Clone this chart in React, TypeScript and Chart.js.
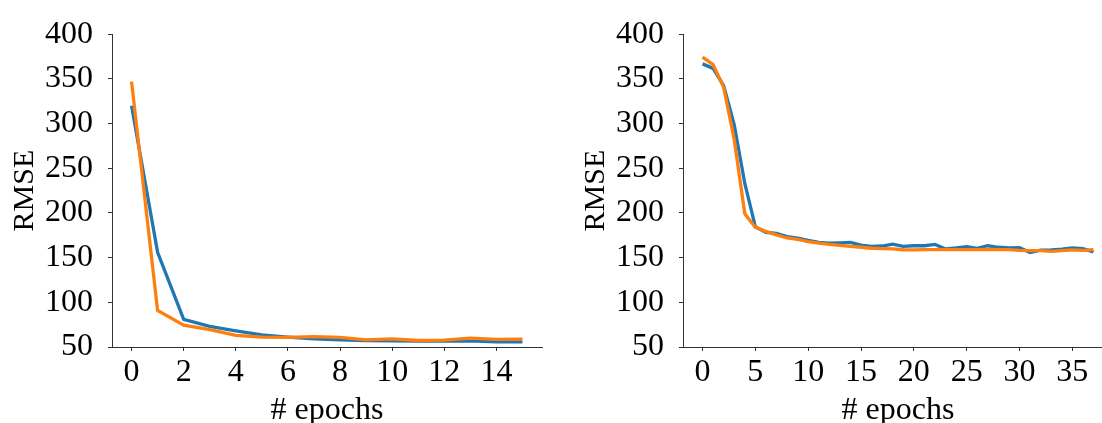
import React, { useEffect, useRef } from "react";
import { Chart, registerables } from "chart.js";

Chart.register(...registerables);

// ---------- data ----------
const leftEpochs = [0, 1, 2, 3, 4, 5, 6, 7, 8, 9, 10, 11, 12, 13, 14, 15];
const leftBlue = [320, 156, 81, 73, 68, 63.5, 61, 59, 58, 57.3, 57, 56.6, 56.6, 57, 55.8, 55.8];
const leftOrange = [347, 91, 74.5, 69.5, 63, 61, 60.8, 61.6, 60.7, 58, 59, 57.3, 57.6, 60, 58.5, 58.7];
const leftXTicks = [0, 2, 4, 6, 8, 10, 12, 14];

const rightEpochs = [
  0, 1, 2, 3, 4, 5, 6, 7, 8, 9, 10, 11, 12, 13, 14, 15, 16, 17, 18, 19, 20, 21, 22, 23, 24, 25, 26, 27,
  28, 29, 30, 31, 32, 33, 34, 35, 36, 37,
];
const rightBlue = [
  366.8, 361.7, 342.4, 298.6, 233, 184.5, 178.3, 177.2, 173.6, 171.7, 169.2, 167, 166.3, 166.6, 167, 164,
  162.5, 163, 165, 162.6, 163.3, 163.3, 164.8, 159.7, 160.8, 162.3, 160.4, 163.3, 161.6, 160.8, 161.1,
  155.7, 158.3, 158.6, 159.4, 160.8, 160, 156.4,
];
const rightOrange = [
  374.4, 366, 340.5, 282, 199, 183.8, 179.4, 175.4, 172, 170.3, 168, 166.3, 164.8, 163.7, 162.5, 161.6,
  160.5, 160, 159.7, 158.8, 158.6, 159, 159, 159, 159, 159, 159, 159.3, 159, 159, 158.2, 157.8, 157.8,
  157, 157.8, 158.6, 158.2, 159,
];
const rightXTicks = [0, 5, 10, 15, 20, 25, 30, 35];

const yTicks = [50, 100, 150, 200, 250, 300, 350, 400];
const yTitle = "RMSE";
const xTitle = "# epochs";

// ---------- styling ----------
const BLUE = "#1f77b4";
const ORANGE = "#ff7f0e";
const AXIS = "#333";
const FONT = "'Liberation Serif', 'Times New Roman', serif";
const CW = 560;
const CH = 423;

function makeConfig(
  xs: number[],
  blue: number[],
  orange: number[],
  xTicks: number[],
  xMin: number,
  xMax: number
): any {
  const pts = (ys: number[]) => xs.map((x, i) => ({ x, y: ys[i] }));
  return {
    type: "line",
    data: {
      datasets: [
        {
          data: pts(blue),
          borderColor: BLUE,
          borderWidth: 3.3,
          pointRadius: 0,
          tension: 0,
          fill: false,
          order: 2,
        },
        {
          data: pts(orange),
          borderColor: ORANGE,
          borderWidth: 3.3,
          pointRadius: 0,
          tension: 0,
          fill: false,
          order: 1,
        },
      ],
    },
    options: {
      responsive: false,
      animation: false,
      devicePixelRatio: 1,
      layout: { padding: { top: 27, right: 18, left: 0, bottom: 0 } },
      plugins: { legend: { display: false }, tooltip: { enabled: false } },
      scales: {
        x: {
          type: "linear",
          min: xMin,
          max: xMax,
          afterFit: (s: any) => {
            s.height = 76;
          },
          afterBuildTicks: (s: any) => {
            s.ticks = xTicks.map((v) => ({ value: v }));
          },
          ticks: {
            color: "#000",
            font: { family: FONT, size: 32 },
            padding: 2,
            maxRotation: 0,
            autoSkip: false,
            callback: (v: any) => String(v),
          },
          grid: {
            display: true,
            drawOnChartArea: false,
            drawTicks: true,
            tickLength: 4,
            tickColor: AXIS,
            tickWidth: 1,
          },
          border: { display: true, color: AXIS, width: 1 },
          title: {
            display: true,
            text: xTitle,
            color: "#000",
            font: { family: FONT, size: 32, lineHeight: 0.8 },
            padding: { top: 0, bottom: 0 },
          },
        },
        y: {
          type: "linear",
          min: 50,
          max: 400,
          afterFit: (s: any) => {
            s.width = 112;
          },
          afterBuildTicks: (s: any) => {
            s.ticks = yTicks.map((v) => ({ value: v }));
          },
          ticks: {
            color: "#000",
            font: { family: FONT, size: 32 },
            padding: 15,
            callback: (v: any) => String(v),
          },
          grid: {
            display: true,
            drawOnChartArea: false,
            drawTicks: true,
            tickLength: 4,
            tickColor: AXIS,
            tickWidth: 1,
          },
          border: { display: true, color: AXIS, width: 1 },
          title: {
            display: true,
            text: yTitle,
            color: "#000",
            font: { family: FONT, size: 30, lineHeight: 1.2 },
            padding: { top: 7, bottom: 0 },
          },
        },
      },
    },
  };
}

function Panel(props: {
  left: number;
  xs: number[];
  blue: number[];
  orange: number[];
  xTicks: number[];
  xMin: number;
  xMax: number;
}) {
  const ref = useRef<HTMLCanvasElement | null>(null);
  useEffect(() => {
    if (!ref.current) return;
    const chart = new Chart(
      ref.current,
      makeConfig(props.xs, props.blue, props.orange, props.xTicks, props.xMin, props.xMax)
    );
    return () => chart.destroy();
  }, []);
  return (
    <canvas
      ref={ref}
      width={CW}
      height={CH}
      style={{ position: "absolute", left: props.left, top: 0, width: CW, height: CH }}
    />
  );
}

export default function App() {
  return (
    <div
      style={{
        position: "fixed",
        left: 0,
        top: 0,
        width: 1102,
        height: 423,
        overflow: "hidden",
        background: "#fff",
      }}
    >
      <Panel
        left={0}
        xs={leftEpochs}
        blue={leftBlue}
        orange={leftOrange}
        xTicks={leftXTicks}
        xMin={-0.75}
        xMax={15.75}
      />
      <Panel
        left={571}
        xs={rightEpochs}
        blue={rightBlue}
        orange={rightOrange}
        xTicks={rightXTicks}
        xMin={-1.85}
        xMax={38.85}
      />
    </div>
  );
}
